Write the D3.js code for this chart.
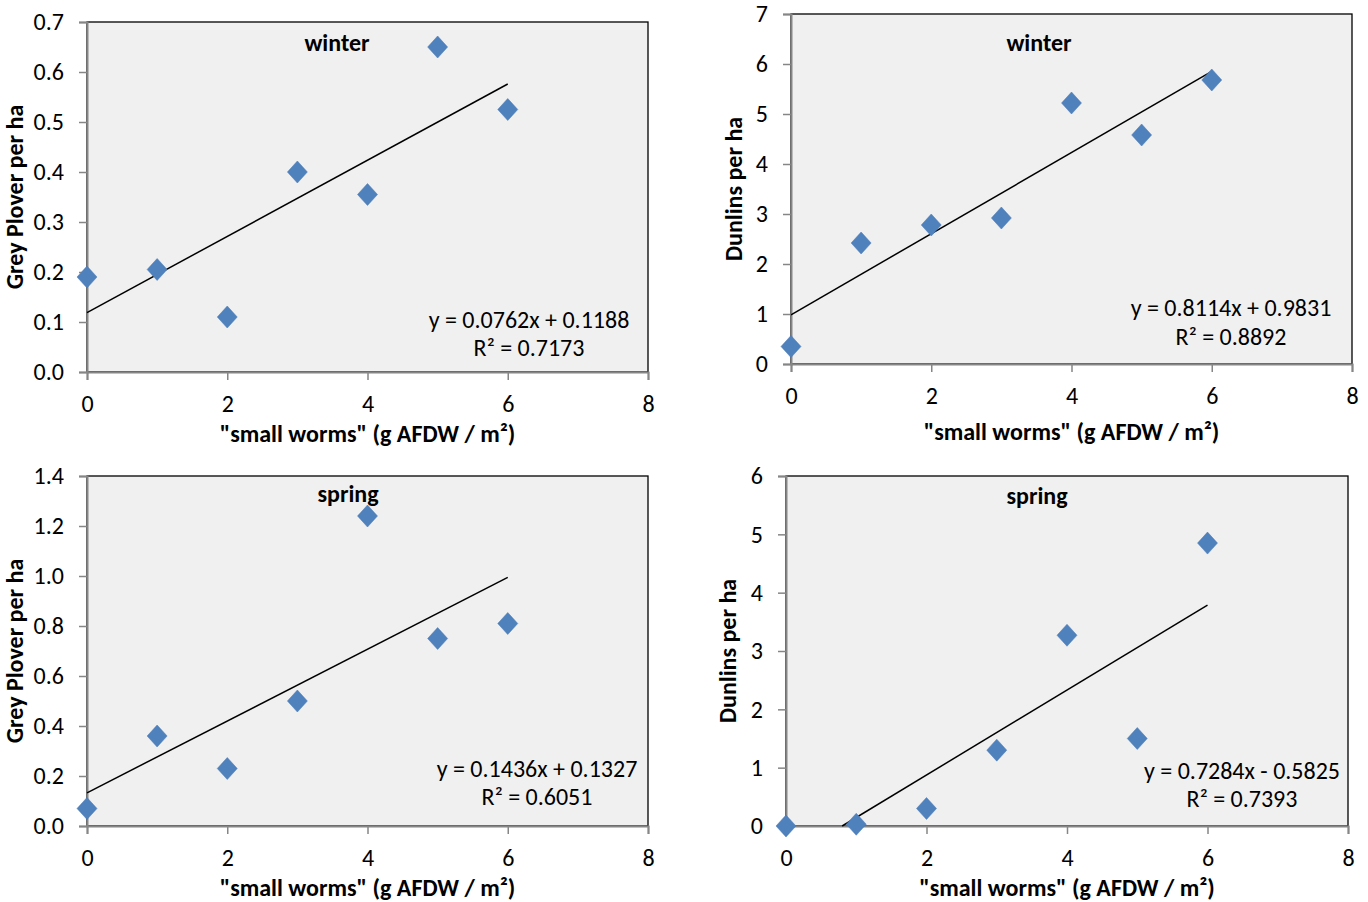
<!DOCTYPE html>
<html><head><meta charset="utf-8">
<script src="https://cdn.jsdelivr.net/npm/d3@7"></script>
<style>
body{margin:0;background:#fff;}
svg text{font-family:Carlito,"Liberation Sans Narrow","Liberation Sans",sans-serif;fill:#000;}
</style></head>
<body><svg id="c" width="1368" height="902"></svg>
<script>
const worms = [0, 1, 2, 3, 4, 5, 6];
const ploverWinter = [0.19, 0.205, 0.11, 0.40, 0.355, 0.65, 0.525];
const dunlinWinter = [0.35, 2.42, 2.78, 2.92, 5.22, 4.58, 5.68];
const ploverSpring = [0.07, 0.36, 0.23, 0.50, 1.24, 0.75, 0.81];
const dunlinSpring = [0.0, 0.03, 0.30, 1.30, 3.27, 1.50, 4.85];
const slopes = [0.0762, 0.8114, 0.1436, 0.7284];
const intercepts = [0.1188, 0.9831, 0.1327, -0.5825];
const equations = ["y = 0.0762x + 0.1188", "y = 0.8114x + 0.9831", "y = 0.1436x + 0.1327", "y = 0.7284x - 0.5825"];
const rSquared = ["R² = 0.7173", "R² = 0.8892", "R² = 0.6051", "R² = 0.7393"];
const seasons = ["winter", "winter", "spring", "spring"];
const yTitles = ["Grey Plover per ha", "Dunlins per ha", "Grey Plover per ha", "Dunlins per ha"];
const xTitle = "\"small worms\" (g AFDW / m²)";
const xTicks = [0, 2, 4, 6, 8];
const yMax = [0.7, 7, 1.4, 6];
const yStep = [0.1, 1, 0.2, 1];
const yFmt = [".1f", "d", ".1f", "d"];
const seriesList = [ploverWinter, dunlinWinter, ploverSpring, dunlinSpring];

// layout only
const layout = [
  {x0:87, x1:648, y0:22, y1:372, ylab:17, xtY:436, title:[337,45], eq:[529,322], r2:[529,350]},
  {x0:791, x1:1352, y0:14, y1:364, ylab:736, xtY:434, title:[1039,45], eq:[1231,310], r2:[1231,339]},
  {x0:87, x1:648, y0:476, y1:826, ylab:17, xtY:890, title:[348,496], eq:[537,771], r2:[537,799]},
  {x0:786, x1:1348, y0:476, y1:826, ylab:730, xtY:890, title:[1037,498], eq:[1242,773], r2:[1242,801]}
];

const svg = d3.select("#c");
const FS = 24;

layout.forEach((L, i) => {
  const x = d3.scaleLinear().domain([0, 8]).range([L.x0, L.x1]);
  const y = d3.scaleLinear().domain([0, yMax[i]]).range([L.y1, L.y0]);
  const g = svg.append("g");
  g.append("rect").attr("x", L.x0).attr("y", L.y0).attr("width", L.x1 - L.x0).attr("height", L.y1 - L.y0)
    .attr("fill", "#f0f0f0").attr("stroke", "#000").attr("stroke-width", 1.3);

  const yt = d3.range(0, yMax[i] + yStep[i] / 2, yStep[i]);
  const ya = g.append("g").attr("transform", `translate(${L.x0},0)`)
    .call(d3.axisLeft(y).tickValues(yt).tickFormat(d3.format(yFmt[i])).tickSizeOuter(0).tickSize(8).tickPadding(15));
  const xa = g.append("g").attr("transform", `translate(0,${L.y1})`)
    .call(d3.axisBottom(x).tickValues(xTicks).tickSizeOuter(0).tickSize(8).tickPadding(15));
  [ya, xa].forEach(a => {
    a.select(".domain").attr("stroke", "#868686").attr("stroke-width", 2);
    a.selectAll(".tick line").attr("stroke", "#868686").attr("stroke-width", 1.5);
    a.selectAll("text").attr("font-size", FS).attr("font-family", null);
  });

  // trend line
  const s = slopes[i], b = intercepts[i];
  const xs = Math.max(0, -b / s);
  g.append("line").attr("x1", x(xs)).attr("y1", y(s * xs + b)).attr("x2", x(6)).attr("y2", y(s * 6 + b))
    .attr("stroke", "#000").attr("stroke-width", 1.5);

  // markers
  const pts = worms.map((w, k) => [w, seriesList[i][k]]);
  g.selectAll("path.pt").data(pts).join("path").attr("class", "pt")
    .attr("d", d => { const cx = x(d[0]), cy = y(d[1]); return `M${cx},${cy-11}L${cx+10},${cy}L${cx},${cy+11}L${cx-10},${cy}Z`; })
    .attr("fill", "#4f81bd").attr("stroke", "#4a7ab5").attr("stroke-width", 0.5);

  g.append("text").attr("x", L.title[0]).attr("y", L.title[1]).attr("text-anchor", "middle")
    .attr("dominant-baseline", "middle").attr("font-size", FS).attr("font-weight", "bold").text(seasons[i]);
  g.append("text").attr("x", L.eq[0]).attr("y", L.eq[1]).attr("text-anchor", "middle")
    .attr("dominant-baseline", "middle").attr("font-size", FS).text(equations[i]);
  g.append("text").attr("x", L.r2[0]).attr("y", L.r2[1]).attr("text-anchor", "middle")
    .attr("dominant-baseline", "middle").attr("font-size", FS).text(rSquared[i]);
  g.append("text").attr("x", (L.x0 + L.x1) / 2).attr("y", L.xtY).attr("text-anchor", "middle")
    .attr("dominant-baseline", "middle").attr("font-size", FS).attr("font-weight", "bold").text(xTitle);
  const yc = (L.y0 + L.y1) / 2;
  g.append("text").attr("transform", `translate(${L.ylab},${yc}) rotate(-90)`).attr("text-anchor", "middle")
    .attr("dominant-baseline", "middle").attr("font-size", FS).attr("font-weight", "bold").text(yTitles[i]);
});
</script></body></html>
